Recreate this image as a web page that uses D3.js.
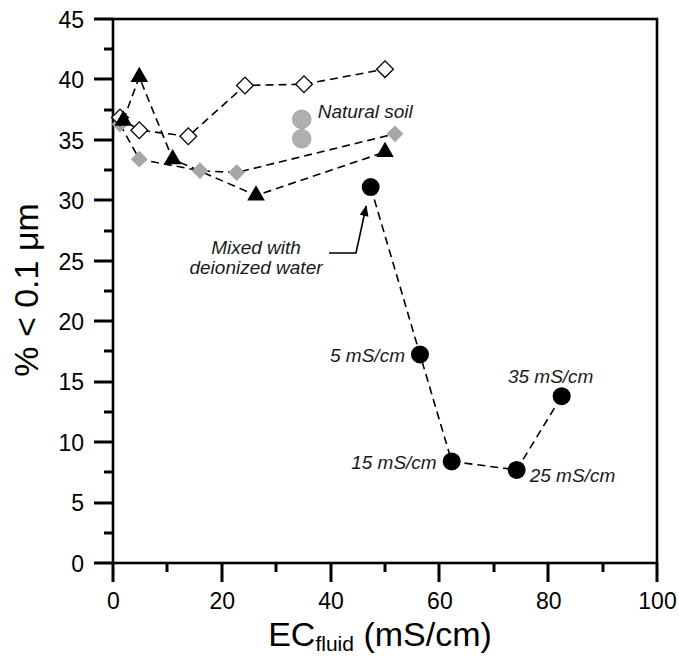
<!DOCTYPE html>
<html><head><meta charset="utf-8">
<script src="https://cdn.jsdelivr.net/npm/d3@7"></script>
<style>body{margin:0;background:#fff}svg text{font-family:"Liberation Sans",Arial,sans-serif}</style>
</head><body>
<svg id="c" width="679" height="657"></svg>
<script>
// Data
const xTicks = [0,20,40,60,80,100];
const yTicks = [0,5,10,15,20,25,30,35,40,45];
const openDiamondX = [1.29,4.83,13.84,24.26,35.11,50.0];
const openDiamondY = [36.85,35.8,35.3,39.5,39.6,40.85];
const triangleX = [1.89,4.83,10.97,26.29,50.0];
const triangleY = [36.6,40.2,33.4,30.4,34.0];
const grayDiamondX = [1.29,4.83,15.99,22.74,51.84];
const grayDiamondY = [36.3,33.4,32.45,32.3,35.5];
const naturalSoilX = [34.69,34.69];
const naturalSoilY = [36.7,35.1];
const blackCircleX = [47.37,56.43,62.26,74.21,82.48];
const blackCircleY = [31.1,17.25,8.4,7.7,13.8];
const blackCircleLabels = ["","5 mS/cm","15 mS/cm","25 mS/cm","35 mS/cm"];

const svg = d3.select("#c");
const L=113,R=657,T=19,B=563;
const x = d3.scaleLinear().domain([0,100]).range([L,R]);
const y = d3.scaleLinear().domain([0,45]).range([B,T]);

// axes (labels through d3 axes, tick marks drawn from the same scales)
const xa = svg.append("g").attr("transform",`translate(0,${B})`)
  .call(d3.axisBottom(x).tickValues(xTicks).tickSize(0).tickPadding(0));
const ya = svg.append("g").attr("transform",`translate(${L},0)`)
  .call(d3.axisLeft(y).tickValues(yTicks).tickSize(0).tickPadding(0));
[xa,ya].forEach(a=>{a.select(".domain").remove();a.selectAll(".tick line").remove();
  a.selectAll("text").attr("font-size",23).attr("fill","#000");});
xa.selectAll("text").attr("y",0).attr("dy",46);
ya.selectAll("text").attr("dy","0.36em").attr("x",-29);

const xMinor = d3.range(0,101,10), yMinor = d3.range(0,45.1,2.5);
const tg = svg.append("g").attr("fill","#000");
tg.selectAll(".xt").data(xMinor).join("rect")
  .attr("x",d=>Math.round(x(d))-1.5).attr("y",B).attr("width",3).attr("height",d=>d%20===0?19:9);
tg.selectAll(".yt").data(yMinor).join("rect")
  .attr("y",d=>Math.round(y(d))-1.5).attr("x",d=>L-(d%5===0?19:9)).attr("height",3).attr("width",d=>d%5===0?19:9);

// frame
svg.append("rect").attr("x",L).attr("y",T).attr("width",R-L).attr("height",B-T)
  .attr("fill","none").attr("stroke","#000").attr("stroke-width",2.6);

// titles
const xt = svg.append("text").attr("x",380).attr("y",646).attr("text-anchor","middle").attr("font-size",34);
xt.append("tspan").text("EC");
xt.append("tspan").attr("font-size",21).attr("dy",5).text("fluid");
xt.append("tspan").attr("dy",-5).text(" (mS/cm)");
svg.append("text").attr("transform",`translate(38,290) rotate(-90)`).attr("text-anchor","middle")
  .attr("font-size",34).text("% < 0.1 \u03bcm");

const line = d3.line();
function series(xs,ys){return xs.map((d,i)=>[x(d),y(ys[i])]);}
function dashed(pts){svg.append("path").attr("d",line(pts)).attr("fill","none").attr("stroke","#000")
  .attr("stroke-width",1.6).attr("stroke-dasharray","8,5");}

const od = series(openDiamondX,openDiamondY);
const tr = series(triangleX,triangleY);
const gd = series(grayDiamondX,grayDiamondY);
const bc = series(blackCircleX,blackCircleY);
const ns = series(naturalSoilX,naturalSoilY);
[od,tr,gd,bc].forEach(dashed);

const diamond = d3.symbol().type(d3.symbolSquare).size(140)();
const tri = d3.symbol().type(d3.symbolTriangle).size(135)();

svg.selectAll(".gd").data(gd).join("path").attr("d",diamond)
  .attr("transform",d=>`translate(${d[0]},${d[1]}) rotate(45)`).attr("fill","#a6a6a6");
svg.selectAll(".od").data(od).join("path").attr("d",diamond)
  .attr("transform",d=>`translate(${d[0]},${d[1]}) rotate(45)`).attr("fill","#fff").attr("stroke","#000").attr("stroke-width",1.3);
svg.selectAll(".tr").data(tr).join("path").attr("d",tri)
  .attr("transform",d=>`translate(${d[0]},${d[1]})`).attr("fill","#000");
svg.selectAll(".ns").data(ns).join("circle").attr("cx",d=>d[0]).attr("cy",d=>d[1]).attr("r",9.3)
  .attr("fill","#b0b0b0").attr("stroke","#999").attr("stroke-width",0.8);
svg.selectAll(".bc").data(bc).join("circle").attr("cx",d=>d[0]).attr("cy",d=>d[1]).attr("r",9).attr("fill","#000");

// annotations
function ann(t,xp,yp,anchor){svg.append("text").attr("x",xp).attr("y",yp).attr("text-anchor",anchor||"start")
  .attr("font-size",19).attr("font-style","italic").attr("fill","#1a1a1a").text(t);}
ann("Natural soil",ns[0][0]+16,ns[0][1]-1);
ann("Mixed with",256,254,"middle");
ann("deionized water",256,274,"middle");
ann(blackCircleLabels[1],bc[1][0]-15,bc[1][1]+8,"end");
ann(blackCircleLabels[2],bc[2][0]-15,bc[2][1]+8,"end");
ann(blackCircleLabels[3],bc[3][0]+13,bc[3][1]+12,"start");
ann(blackCircleLabels[4],bc[4][0]-11,bc[4][1]-13,"middle");

// arrow
svg.append("defs").append("marker").attr("id","ah").attr("viewBox","0 0 12 10").attr("refX",11).attr("refY",5)
  .attr("markerWidth",12).attr("markerHeight",9).attr("orient","auto").attr("markerUnits","userSpaceOnUse")
  .append("path").attr("d","M0,0 L12,5 L0,10 Z").attr("fill","#000");
svg.append("path").attr("d",`M329,253 L356,253 L${bc[0][0]-4.5},${bc[0][1]+19}`).attr("fill","none")
  .attr("stroke","#000").attr("stroke-width",1.6).attr("marker-end","url(#ah)");
</script>
</body></html>
